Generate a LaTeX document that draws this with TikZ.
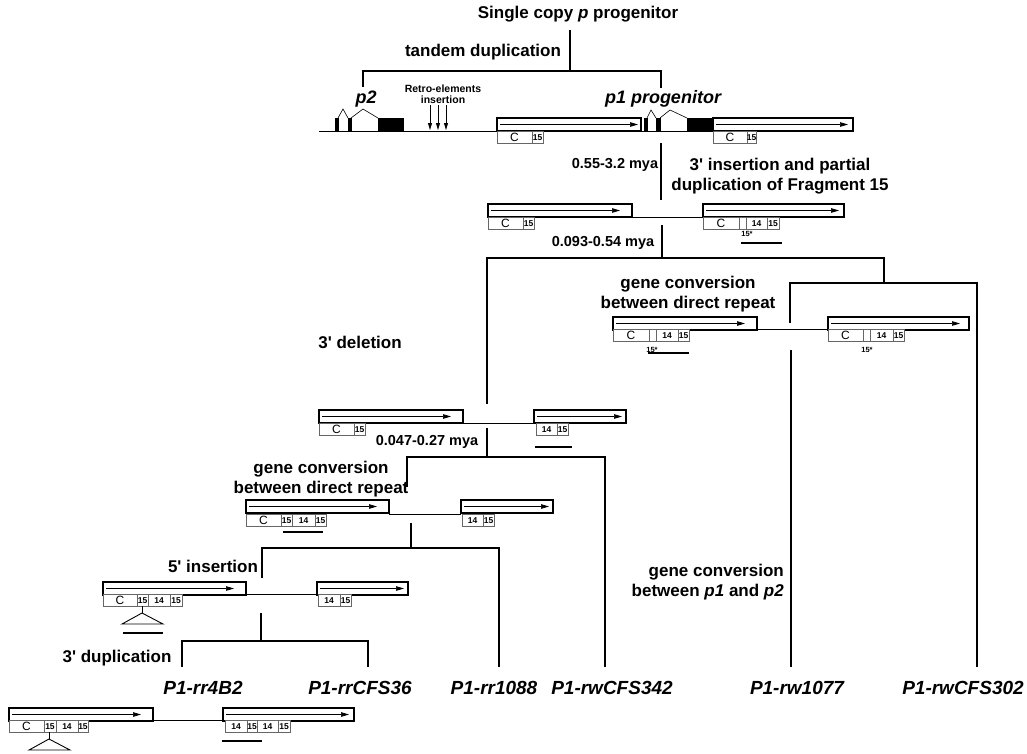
\documentclass[tikz,border=0pt]{standalone}
\usepackage{fontspec}
\setmainfont{Liberation Sans}[Ligatures=TeXOff]
\usetikzlibrary{arrows.meta}
\tikzset{
  gb/.style={draw, line width=1.5pt, fill=white},
  ga/.style={line width=0.7pt, -{Triangle[length=8pt,width=4.5pt]}},
  sb/.style={draw=black!60, line width=0.6pt, fill=white},
  tl/.style={line width=1.1pt},
  bar/.style={line width=2.8pt},
  exon/.style={fill=black, draw=black, line width=0.4pt},
  hat/.style={line width=0.6pt},
  lbl/.style={font=\fontsize{17}{20}\selectfont\bfseries, inner sep=0pt, align=center},
  mya/.style={font=\fontsize{14.5}{16}\selectfont\bfseries, inner sep=0pt},
  plbl/.style={font=\fontsize{19}{21}\selectfont\bfseries\itshape, inner sep=0pt},
  bt/.style={font=\fontsize{8.5}{9}\selectfont\bfseries, inner sep=0pt},
  st/.style={font=\fontsize{7.5}{8}\selectfont\bfseries, inner sep=0pt},
  ra/.style={line width=0.8pt, -{Triangle[length=7pt,width=4pt]}},
}
\newcommand\gbox[4]{\draw[gb] (#1,#3) rectangle (#2,{#3+13});
  \draw[ga] ({#1+3},{#3+6.5}) -- (#4,{#3+6.5});}
\newcommand\smb[4]{\draw[sb] (#1,#3) rectangle (#2,{#3+12});
  \node[bt] at ({(#1+#2)/2},{#3+6.3}) {#4};}
\newcommand\CC{{\fontsize{12}{12}\selectfont\mdseries C}}
\begin{document}
\begin{tikzpicture}[x=1pt,y=-1pt]
\useasboundingbox (0,0) rectangle (1027,753);
% ---------- top ----------
\node[lbl] (title) at (578,14) {Single copy \textit{p} progenitor};
\node[lbl] (tandem) at (483,52) {tandem duplication};
\node[lbl, font=\fontsize{18}{20}\selectfont\bfseries\itshape] (p2) at (366,99) {p2};
\node[lbl, font=\fontsize{18}{20}\selectfont\bfseries\itshape] (p1) at (663,99) {p1 progenitor};
\coordinate (t0) at (570,30); \coordinate (t1) at (570,71);
\coordinate (p2top) at (363,87); \coordinate (p1top) at (661,88);
\draw[tl] (t0) -- (t1);
\draw[tl] (p2top) |- (t1) -| (p1top);
% retro elements
\node[font=\fontsize{10.5}{11.5}\selectfont\bfseries, align=center, inner sep=0pt] (retro) at (443,94) {Retro-elements\\insertion};
\foreach \x in {430,438,446} \draw[ra] (\x,105) -- (\x,130);
% row 1
\coordinate (b1a) at (319,131); \coordinate (b1b) at (713,131);
\draw[line width=0.7pt] (b1a) -- (b1b);
\draw[exon] (335,118) rectangle (338,131);
\draw[exon] (348,118) rectangle (351,131);
\draw[exon] (378,118) rectangle (403,131);
\draw[hat] (338,118) -- (343,109) -- (348,118);
\draw[hat] (351,118) -- (363,109) -- (378,118);
\gbox{497}{641}{118}{638}
\smb{497}{532}{131}{\CC}\smb{532}{543}{131}{15}
\draw[exon] (644,118) rectangle (647,131);
\draw[exon] (656,118) rectangle (660,131);
\draw[exon] (687,118) rectangle (713,131);
\draw[hat] (647,118) -- (651,110) -- (656,118);
\draw[hat] (660,118) -- (670,110) -- (687,118);
\gbox{713}{853}{118}{848}
\smb{713}{747}{131}{\CC}\smb{747}{756}{131}{15}
% step 1
\coordinate (s1a) at (661,143); \coordinate (s1b) at (661,200);
\draw[tl] (s1a) -- (s1b);
\node[mya] (mya1) at (615,165) {0.55-3.2 mya};
\node[lbl] (ins3) at (780,176) {3' insertion and partial\\duplication of Fragment 15};
% row 2
\draw[line width=0.7pt] (632,217) -- (703,217);
\gbox{488}{632}{204}{620}
\smb{488}{523}{217}{\CC}\smb{523}{534}{217}{15}
\gbox{703}{844}{204}{839}
\smb{703}{739}{217}{\CC}\smb{739}{746}{217}{}\smb{746}{767}{217}{14}\smb{767}{779}{217}{15}
\node[st] (s15a) at (747,234) {15*};
\draw[bar] (741,243) -- (782,243);
% step 2
\node[mya] (mya2) at (603,243) {0.093-0.54 mya};
\coordinate (s2a) at (662,225); \coordinate (s2b) at (662,258);
\coordinate (s2l) at (487,404); \coordinate (s2r) at (884,283);
\draw[tl] (s2a) -- (s2b);
\draw[tl] (s2l) |- (s2b) -| (s2r);
\coordinate (s3l) at (790,323); \coordinate (s3r) at (977,667);
\draw[tl] (s3l) |- (s2r) -| (s3r);
\node[lbl] (gc1) at (688,294) {gene conversion\\between direct repeat};
% row 3 right
\draw[line width=0.7pt] (757,329) -- (828,329);
\gbox{613}{757}{317}{745}
\smb{613}{649}{329}{\CC}\smb{649}{656}{329}{}\smb{656}{678}{329}{14}\smb{678}{689}{329}{15}
\node[st] (s15b) at (652,350) {15*};
\draw[bar] (648,353) -- (689,353);
\gbox{828}{969}{317}{960}
\smb{828}{863}{329}{\CC}\smb{863}{870}{329}{}\smb{870}{893}{329}{14}\smb{893}{904}{329}{15}
\node[st] (s15c) at (867,350) {15*};
\coordinate (r3a) at (791,350); \coordinate (r3b) at (791,667);
\draw[tl] (r3a) -- (r3b);
\node[lbl, anchor=east, align=right] (gc3) at (784,582) {gene conversion\\between \textit{p1} and \textit{p2}};
% left branch
\node[lbl] (del3) at (360,342) {3' deletion};
% row 4
\draw[line width=0.7pt] (463,423) -- (534,423);
\gbox{319}{463}{410}{451}
\smb{319}{354}{423}{\CC}\smb{354}{365}{423}{15}
\gbox{534}{626}{410}{622}
\smb{536}{557}{423}{14}\smb{557}{568}{423}{15}
\draw[bar] (535,447) -- (572,447);
\node[mya] (mya3) at (427,442) {0.047-0.27 mya};
\coordinate (s4a) at (487,428); \coordinate (s4b) at (487,457);
\coordinate (s4l) at (407,487); \coordinate (s4r) at (605,667);
\draw[tl] (s4a) -- (s4b);
\draw[tl] (s4l) |- (s4b) -| (s4r);
\node[lbl] (gc2) at (321,479) {gene conversion\\between direct repeat};
% row 5
\draw[line width=0.7pt] (389,514) -- (461,514);
\gbox{246}{389}{500}{377}
\smb{246}{281}{514}{\CC}\smb{281}{292}{514}{15}\smb{292}{315}{514}{14}\smb{315}{326}{514}{15}
\draw[bar] (283,532) -- (323,532);
\gbox{461}{553}{500}{549}
\smb{462}{483}{514}{14}\smb{483}{494}{514}{15}
\coordinate (s5a) at (411,523); \coordinate (s5b) at (411,548);
\coordinate (s5l) at (262,578); \coordinate (s5r) at (499,667);
\draw[tl] (s5a) -- (s5b);
\draw[tl] (s5l) |- (s5b) -| (s5r);
\node[lbl] (ins5) at (213,566) {5' insertion};
% row 6
\draw[line width=0.7pt] (246,594) -- (317,594);
\gbox{103}{246}{582}{234}
\smb{103}{137}{594}{\CC}\smb{137}{148}{594}{15}\smb{148}{170}{594}{14}\smb{170}{182}{594}{15}
\draw[line width=0.7pt] (142,606) -- (142,613);
\draw[line width=0.9pt] (122,624) -- (142,613) -- (163,624) -- cycle;
\draw[bar] (123,633) -- (163,633);
\gbox{317}{408}{582}{404}
\smb{318}{340}{594}{14}\smb{340}{351}{594}{15}
\coordinate (s6a) at (261,613); \coordinate (s6b) at (261,641);
\coordinate (s6l) at (182,667); \coordinate (s6r) at (368,667);
\draw[tl] (s6a) -- (s6b);
\draw[tl] (s6l) |- (s6b) -| (s6r);
\node[lbl] (dup3) at (117,658) {3' duplication};
% row 7
\draw[line width=0.7pt] (153,720) -- (223,720);
\gbox{9}{153}{708}{141}
\smb{9}{44}{720}{\CC}\smb{44}{56}{720}{15}\smb{56}{78}{720}{14}\smb{78}{88}{720}{15}
\draw[line width=0.7pt] (49,732) -- (49,739);
\draw[line width=0.9pt] (29,750) -- (49,739) -- (70,750) -- cycle;
\gbox{223}{354}{708}{349}
\smb{225}{247}{720}{14}\smb{247}{257}{720}{15}\smb{257}{278}{720}{14}\smb{278}{290}{720}{15}
\draw[bar] (222,741) -- (262,741);
% leaf labels
\node[plbl] (l1) at (203,688) {P1-rr4B2};
\node[plbl] (l2) at (360,688) {P1-rrCFS36};
\node[plbl] (l3) at (494,688) {P1-rr1088};
\node[plbl] (l4) at (612,688) {P1-rwCFS342};
\node[plbl] (l5) at (797,688) {P1-rw1077};
\node[plbl] (l6) at (963,688) {P1-rwCFS302};
\end{tikzpicture}
\end{document}
